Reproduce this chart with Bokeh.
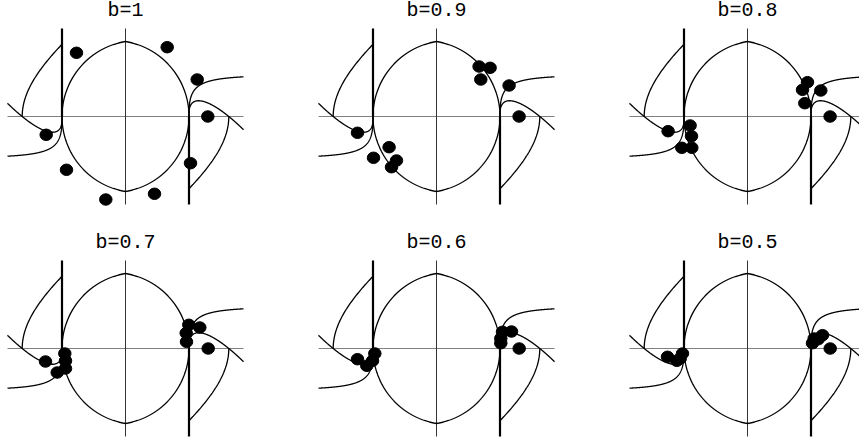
import numpy as np
from bokeh.plotting import figure
from bokeh.layouts import gridplot
from bokeh.models import Range1d
from bokeh.core.properties import value
from bokeh.embed import file_html
from bokeh.resources import INLINE

# Parameter value shown above each panel
b_labels = ["1", "0.9", "0.8", "0.7", "0.6", "0.5"]

# Positions of the states for each value of b (plot units, origin at centre)
b10_x = [-49.0, 41.7, 71.7, 82.3, 65.0, 29.0, -19.7, -59.0, -79.3]
b10_y = [63.7, 69.3, 37.0, 0.0, -46.7, -77.3, -83.0, -53.3, -18.3]

b09_x = [42.6, 53.6, 44.3, 72.6, 82.6, -79.0, -47.4, -63.0, -40.0, -45.0]
b09_y = [50.0, 48.7, 37.0, 31.0, 0.0, -16.3, -30.7, -41.3, -44.0, -50.7]

b08_x = [60.0, 55.0, 73.3, 57.3, 82.6, -79.4, -57.4, -56.0, -65.7, -55.7]
b08_y = [34.3, 26.7, 26.0, 13.3, 0.0, -14.7, -9.0, -19.7, -31.3, -31.3]

b07_x = [63.3, 74.3, 60.7, 61.0, 82.7, -80.0, -60.7, -60.0, -60.0, -68.3]
b07_y = [23.7, 21.0, 15.4, 6.7, 0.0, -13.0, -5.0, -12.3, -20.0, -24.0]

b06_x = [66.0, 75.0, 64.3, 64.3, 82.7, -79.0, -69.7, -64.0, -61.7]
b06_y = [16.7, 17.0, 10.0, 5.3, 0.0, -10.7, -17.3, -12.3, -5.0]

b05_x = [66.7, 75.0, 65.0, 70.7, 82.7, -80.0, -70.7, -65.0, -67.3]
b05_y = [10.0, 13.3, 5.3, 9.3, 0.0, -8.3, -12.3, -5.0, -10.0]

states = [(b10_x, b10_y), (b09_x, b09_y), (b08_x, b08_y),
          (b07_x, b07_y), (b06_x, b06_y), (b05_x, b05_y)]

# ---- geometry of the phase portrait (same in every panel) ----
HALF_W = 118.0      # half width of a panel
HALF_H = 88.0       # half height of a panel
A_EQ = 63.5         # x of the two equilibria on the horizontal axis
LENS_TOP = 75.0     # height of the separatrix lens
OUTER_X = 103.3     # where the outer separatrix meets the axis
K_OUT = 111.0       # curvature of the outer separatrix

# lens: two circular arcs through (0, +-LENS_TOP) with vertical tangent at +-A_EQ
c_off = (LENS_TOP ** 2 - A_EQ ** 2) / (2 * A_EQ)
R_lens = A_EQ + c_off
ys = np.linspace(-LENS_TOP, LENS_TOP, 300)
lens_right = np.sqrt(R_lens ** 2 - ys ** 2) - c_off

# outer separatrix, from the axis up to the stable manifold line
y_top = np.sqrt(((K_OUT + OUTER_X - A_EQ) ** 2 - K_OUT ** 2) / 2)
yo = np.linspace(0, y_top, 150)
outer_left = -OUTER_X + np.sqrt(K_OUT ** 2 + 2 * yo ** 2) - K_OUT

# two trajectories running into the left equilibrium from below
d = np.linspace(0, HALF_W - A_EQ, 300)
traj_a = -3 + 1.268 * d + 0.00237 * d ** 2 - 8.121 * np.sqrt(d)
traj_b = -3 - 38.7 * (1 - np.exp(-np.sqrt(d) / 2.5))
xd = -A_EQ - d

curves_x = [
    lens_right, -lens_right,
    outer_left, -outer_left,
    np.r_[-A_EQ, xd], -np.r_[-A_EQ, xd],
    np.r_[-A_EQ, xd], -np.r_[-A_EQ, xd],
]
curves_y = [
    ys, ys,
    yo, -yo,
    np.r_[0, traj_a], -np.r_[0, traj_a],
    np.r_[0, traj_b], -np.r_[0, traj_b],
]

col_right = [186, 186, 112]
col_width = [311, 311, 237]
row_bottom = [-116, -95]
row_height = [232, 211]


def make_panel(i):
    r, c = divmod(i, 3)
    p = figure(width=col_width[c], height=row_height[r],
               x_range=Range1d(-125, col_right[c]),
               y_range=Range1d(row_bottom[r], 116),
               output_backend="svg", toolbar_location=None,
               x_axis_location=None, y_axis_location=None,
               min_border=0, outline_line_color=None)
    p.xgrid.visible = False
    p.ygrid.visible = False
    p.background_fill_color = "white"
    p.border_fill_color = "white"

    # coordinate axes
    p.segment(x0=[-HALF_W], y0=[0], x1=[HALF_W], y1=[0],
              line_color="#808080", line_width=1)
    p.segment(x0=[0], y0=[-HALF_H], x1=[0], y1=[HALF_H],
              line_color="#333333", line_width=1)

    # stable manifolds of the two equilibria
    p.segment(x0=[-A_EQ, A_EQ], y0=[0, 0], x1=[-A_EQ, A_EQ], y1=[HALF_H, -HALF_H],
              line_color="black", line_width=2.2)

    # separatrices and trajectories
    p.multi_line(xs=[list(v) for v in curves_x], ys=[list(v) for v in curves_y],
                 line_color="black", line_width=1.3)

    sx, sy = states[i]
    p.ellipse(x=sx, y=sy, width=12.5, height=11.5,
              fill_color="black", line_color="black")

    p.text(x=[0], y=[106.5], text=["b=" + b_labels[i]],
           text_font=value("Liberation Mono"), text_font_size="20px",
           text_align="center", text_baseline="middle", text_color="black")
    return p


panels = [make_panel(i) for i in range(6)]
grid = gridplot([panels[:3], panels[3:]], toolbar_location=None)

open("out.html", "w").write(file_html(grid, INLINE))
